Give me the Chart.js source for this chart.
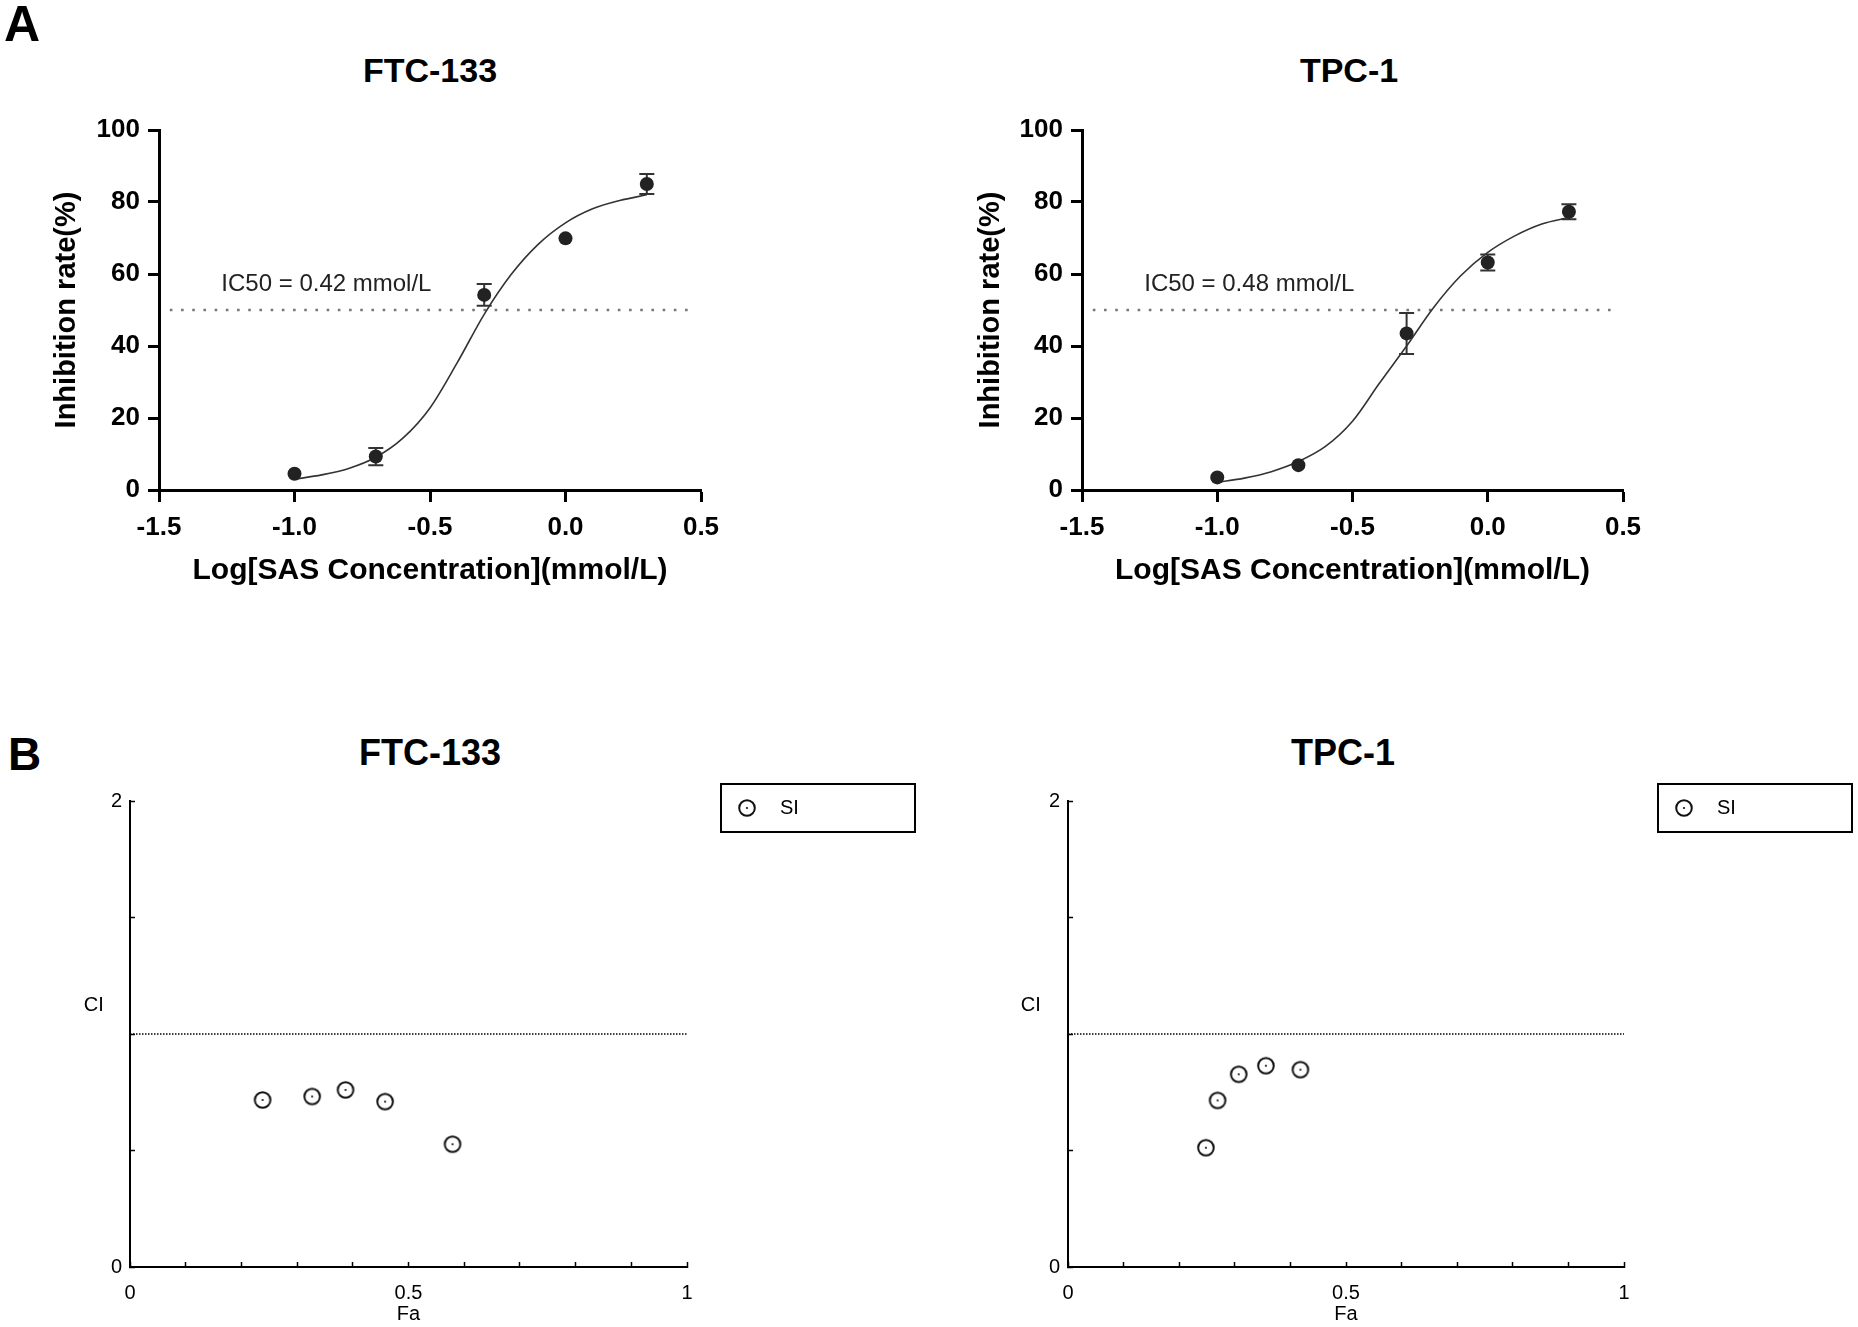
<!DOCTYPE html>
<html>
<head>
<meta charset="utf-8">
<script src="https://cdn.jsdelivr.net/npm/chart.js@4.4.1/dist/chart.umd.min.js"></script>
<style>
  html, body { margin: 0; padding: 0; background: #fff; }
  #fig { position: relative; width: 1858px; height: 1327px; overflow: hidden; font-family: "Liberation Sans", Arial, sans-serif; color: #000; }
  #fig canvas { position: absolute; }
  .letter { position: absolute; font-weight: bold; line-height: 1; }
  .ttl { position: absolute; width: 400px; text-align: center; font-weight: bold; line-height: 1; white-space: nowrap; }
</style>
</head>
<body>
<div id="fig">
  <div class="letter" style="left:4px; top:-1px; font-size:50px;">A</div>
  <div class="ttl" style="left:230px; top:53px; font-size:34px;">FTC-133</div>
  <div class="ttl" style="left:1149px; top:53px; font-size:34px;">TPC-1</div>
  <canvas id="doseFtc" width="860" height="530" style="left:0; top:90px;"></canvas>
  <canvas id="doseTpc" width="938" height="530" style="left:920px; top:90px;"></canvas>

  <div class="letter" style="left:8px; top:731px; font-size:46px;">B</div>
  <div class="ttl" style="left:230px; top:735px; font-size:36px;">FTC-133</div>
  <div class="ttl" style="left:1143px; top:735px; font-size:36px;">TPC-1</div>
  <canvas id="ciFtc" width="928" height="627" style="left:0; top:700px;"></canvas>
  <canvas id="ciTpc" width="928" height="627" style="left:930px; top:700px;"></canvas>
</div>

<script>
// --- A: dose-response (log mmol/L vs inhibition %) ---
const doseLog = [-1.0, -0.7, -0.3, 0.0, 0.3];
const ftcInhib = [4.5, 9.3, 54.2, 69.9, 85.0];
const ftcErr = [0, 2.4, 3.0, 0, 2.8];
const tpcInhib = [3.5, 6.9, 43.5, 63.2, 77.3];
const tpcErr = [0, 0, 5.7, 2.2, 2.1];

// fitted curves
const fitX = [-1.0, -0.9, -0.8, -0.7, -0.6, -0.5, -0.4, -0.3, -0.2, -0.1, 0.0, 0.1, 0.2, 0.3];
const ftcFit = [3.0, 4.2, 6.0, 9.1, 14.4, 22.8, 35.3, 48.8, 59.9, 68.3, 74.2, 78.1, 80.4, 82.0];
const tpcFit = [2.1, 3.3, 5.1, 7.9, 12.1, 19.1, 29.7, 40.0, 50.7, 59.5, 66.0, 70.6, 73.9, 75.7];

const halfX = [-1.46, 0.46];
const halfInhib = 50;
const ftcIc50 = 'IC50 = 0.42 mmol/L';
const tpcIc50 = 'IC50 = 0.48 mmol/L';

// --- B: combination index vs fraction affected ---
const ftcFa = [0.238, 0.327, 0.387, 0.458, 0.579];
const ftcCI = [0.717, 0.732, 0.760, 0.710, 0.527];
const tpcFa = [0.248, 0.269, 0.307, 0.356, 0.418];
const tpcCI = [0.512, 0.715, 0.827, 0.864, 0.847];
const ciRefX = [0, 1];
const ciRef = 1;
const faTickLabels = [0, 0.5, 1];
const ciTickLabels = [0, 2];

const FONT = '"Liberation Sans", Arial, sans-serif';
Chart.defaults.font.family = FONT;
Chart.defaults.color = '#000';

const pts = (xs, ys) => xs.map((v, i) => ({ x: v, y: ys[i] }));

// vertical error bars with caps, drawn under the points
const errorBars = {
  id: 'errorBars',
  beforeDatasetsDraw(chart) {
    const { ctx, scales: { x, y } } = chart;
    chart.data.datasets.forEach(ds => {
      if (!ds.errors) return;
      ctx.save();
      ctx.strokeStyle = '#333';
      ctx.lineWidth = 2;
      ds.data.forEach((p, i) => {
        const e = ds.errors[i];
        if (!e) return;
        const px = x.getPixelForValue(p.x);
        const top = y.getPixelForValue(p.y + e);
        const bot = y.getPixelForValue(p.y - e);
        ctx.beginPath();
        ctx.moveTo(px, top); ctx.lineTo(px, bot);
        ctx.moveTo(px - 7.5, top); ctx.lineTo(px + 7.5, top);
        ctx.moveTo(px - 7.5, bot); ctx.lineTo(px + 7.5, bot);
        ctx.stroke();
      });
      ctx.restore();
    });
  }
};

// free text placed at data coordinates
const notes = {
  id: 'notes',
  afterDraw(chart, args, opts) {
    const { ctx, scales: { x, y } } = chart;
    (opts.items || []).forEach(n => {
      ctx.save();
      ctx.fillStyle = n.color || '#000';
      ctx.font = (n.size || 20) + 'px ' + FONT;
      ctx.textAlign = n.align || 'left';
      ctx.textBaseline = 'middle';
      ctx.fillText(n.text, x.getPixelForValue(n.x), y.getPixelForValue(n.y));
      ctx.restore();
    });
  }
};

// boxed legend to the right of the plot
const boxLegend = {
  id: 'boxLegend',
  afterDraw(chart, args, opts) {
    if (!opts.show) return;
    const { ctx, chartArea } = chart;
    const ds = chart.data.datasets[0];
    const left = chartArea.right + opts.dx, top = chartArea.top + opts.dy;
    const icon = ds.pointStyle;
    ctx.save();
    ctx.strokeStyle = '#000';
    ctx.lineWidth = 2;
    ctx.strokeRect(left, top, opts.w, opts.h);
    ctx.drawImage(icon, left + 26 - icon.width / 2, top + opts.h / 2 - icon.height / 2);
    ctx.fillStyle = '#000';
    ctx.font = '20px ' + FONT;
    ctx.textBaseline = 'middle';
    ctx.fillText(ds.label, left + 59, top + opts.h / 2);
    ctx.restore();
  }
};

// open circle with a centre dot, as in CompuSyn plots
function ringIcon() {
  const c = document.createElement('canvas');
  c.width = 22; c.height = 22;
  const g = c.getContext('2d');
  g.strokeStyle = '#111';
  g.lineWidth = 2;
  g.beginPath(); g.arc(11, 11, 7.8, 0, Math.PI * 2); g.stroke();
  g.fillStyle = '#111';
  g.beginPath(); g.arc(11, 11, 1.1, 0, Math.PI * 2); g.fill();
  return c;
}

function doseChart(id, yWidth, yTitlePad, padRight, inhib, err, fit, ic50) {
  const bold = size => ({ family: FONT, size, weight: 'bold' });
  return new Chart(document.getElementById(id), {
    type: 'scatter',
    data: {
      datasets: [
        { data: pts(doseLog, inhib), errors: err, pointRadius: 7, pointBackgroundColor: '#222', pointBorderWidth: 0 },
        { data: pts(fitX, fit), showLine: true, borderColor: '#333', borderWidth: 1.6, pointRadius: 0, cubicInterpolationMode: 'monotone' },
        { data: pts(halfX, [halfInhib, halfInhib]), showLine: true, borderColor: '#777', borderWidth: 2.6, borderDash: [2.6, 8.6], pointRadius: 0 }
      ]
    },
    options: {
      responsive: false, animation: false, events: [],
      layout: { padding: { top: 40, right: padRight, bottom: 10, left: 0 } },
      plugins: {
        legend: { display: false }, tooltip: { enabled: false },
        notes: { items: [{ text: ic50, x: -1.27, y: 57, size: 24, color: '#222' }] },
        boxLegend: { show: false }
      },
      scales: {
        x: {
          type: 'linear', min: -1.5, max: 0.5,
          afterFit: s => { s.height = 120; },
          ticks: { stepSize: 0.5, autoSkip: false, maxRotation: 0, padding: 10, font: bold(26), callback: v => v.toFixed(1) },
          grid: { drawOnChartArea: false, tickLength: 12, tickWidth: 3, tickColor: '#000' },
          border: { color: '#000', width: 3 },
          title: { display: true, text: 'Log[SAS Concentration](mmol/L)', font: bold(30), padding: { top: 0, bottom: 21 } }
        },
        y: {
          min: 0, max: 100,
          afterFit: s => { s.width = yWidth; },
          ticks: { stepSize: 20, padding: 8, font: bold(26) },
          grid: { drawOnChartArea: false, tickLength: 11, tickWidth: 3, tickColor: '#000' },
          border: { color: '#000', width: 3 },
          title: { display: true, text: 'Inhibition rate(%)', font: bold(29), padding: { top: yTitlePad, bottom: 0 } }
        }
      }
    },
    plugins: [errorBars, notes]
  });
}

function ciChart(id, yWidth, padRight, fa, ci, ciLabelX) {
  const near = (v, list) => list.some(t => Math.abs(v - t) < 1e-6);
  return new Chart(document.getElementById(id), {
    type: 'scatter',
    data: {
      datasets: [
        { label: 'SI', data: pts(fa, ci), pointStyle: ringIcon(), pointRadius: 9 },
        { label: '', data: pts(ciRefX, [ciRef, ciRef]), showLine: true, borderColor: '#000', borderWidth: 1.3, borderDash: [1.5, 1.5], pointRadius: 0 }
      ]
    },
    options: {
      responsive: false, animation: false, events: [],
      layout: { padding: { top: 101, right: padRight, bottom: 0, left: 0 } },
      plugins: {
        legend: { display: false }, tooltip: { enabled: false },
        notes: { items: [{ text: 'CI', x: ciLabelX, y: 1.124, size: 20, align: 'center' }] },
        boxLegend: { show: true, dx: 34, dy: -17, w: 194, h: 48 }
      },
      scales: {
        x: {
          type: 'linear', min: 0, max: 1,
          afterFit: s => { s.height = 60; },
          ticks: { stepSize: 0.1, autoSkip: false, maxRotation: 0, padding: 19, font: { size: 20 },
                   callback: v => near(v, faTickLabels) ? String(Math.round(v * 10) / 10) : '' },
          grid: { drawOnChartArea: false, tickLength: -5, tickWidth: 1.5, tickColor: '#000' },
          border: { color: '#000', width: 2 },
          title: { display: true, text: 'Fa', font: { size: 20 }, padding: { top: 0, bottom: 1 } }
        },
        y: {
          min: 0, max: 2,
          afterFit: s => { s.width = yWidth; },
          ticks: { stepSize: 0.5, padding: 13, font: { size: 20 },
                   callback: v => near(v, ciTickLabels) ? String(v) : '' },
          grid: { drawOnChartArea: false, tickLength: -5, tickWidth: 1.5, tickColor: '#000' },
          border: { color: '#000', width: 2 }
        }
      }
    },
    plugins: [notes, boxLegend]
  });
}

doseChart('doseFtc', 159, 50, 159, ftcInhib, ftcErr, ftcFit, ftcIc50);
doseChart('doseTpc', 162, 53.6, 235, tpcInhib, tpcErr, tpcFit, tpcIc50);
ciChart('ciFtc', 130, 241, ftcFa, ftcCI, -0.065);
ciChart('ciTpc', 138, 234, tpcFa, tpcCI, -0.067);
</script>
</body>
</html>
